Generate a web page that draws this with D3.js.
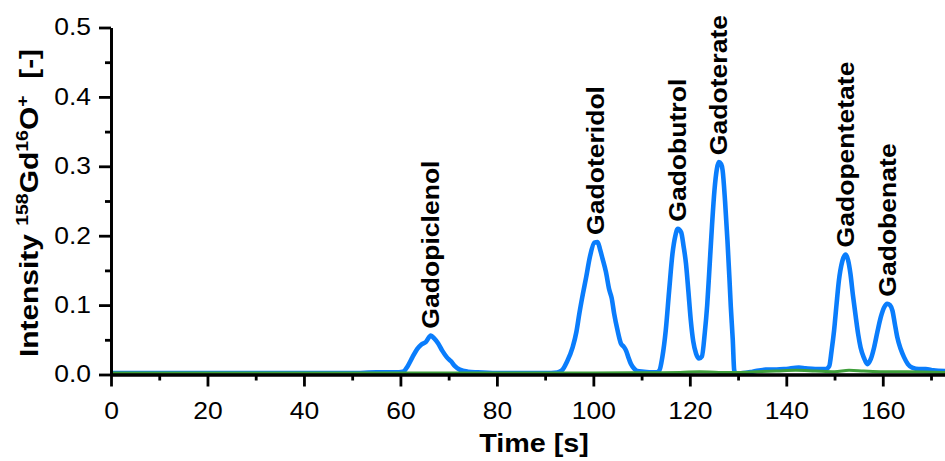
<!DOCTYPE html>
<html>
<head>
<meta charset="utf-8">
<script src="https://cdn.jsdelivr.net/npm/d3@7"></script>
<style>
    body { margin: 0; background: #fff; }
    text { font-family: "Liberation Sans", Arial, sans-serif; white-space: pre; }
</style>
</head>
<body>
<div class="vis-chromatogram"></div>
<script>
// time axis [s]
const xTicks = [0, 20, 40, 60, 80, 100, 120, 140, 160];
const yTicks = [0.0, 0.1, 0.2, 0.3, 0.4, 0.5];

// 158Gd16O+ trace (blue)
const blueTime = [0, 10, 20, 30, 40, 50, 55, 59, 60.5, 61.5, 62.5, 63.5, 64.3, 65.3, 66.3, 67, 67.8, 68.7, 69.6, 70.5, 71.3, 72.3, 74, 76, 80, 85, 90,
    92.5, 93.5, 94.5, 95.7, 96.5, 97.1, 97.8, 98.5, 99.3, 100.2, 100.9, 101.4, 101.9, 102.6, 103.3, 103.8, 104.3, 105, 105.7, 106.3, 106.8, 107.3, 107.8, 108.5, 109.1, 110.5, 112, 113,
    113.7, 114.3, 115, 115.7, 116.4, 117, 117.5, 118.2, 118.7, 119.2, 119.7, 120.2, 120.7, 121.3, 121.9, 122.5, 123.1, 123.6, 124, 124.6, 125.1, 125.6, 126, 126.5, 126.8, 127.3, 127.8, 128.2, 128.5, 128.9, 129.2, 129.5,
    131, 133, 135.7, 138, 140, 142.6, 144, 146, 148.2,
    148.9, 149.4, 149.9, 150.4, 150.9, 151.6, 152.3, 152.8, 153.3, 153.8, 154.4, 154.9, 155.4, 156.1, 156.8, 157.5, 158.2, 158.9, 159.6, 160.3, 160.9, 161.5, 162, 162.5, 163, 163.7, 164.4, 165.2, 166.1, 167.5, 168.9, 170.5, 172.9];
const blueValue = [0.002, 0.002, 0.002, 0.002, 0.002, 0.002, 0.003, 0.003, 0.004, 0.012, 0.025, 0.037, 0.043, 0.047, 0.056, 0.052, 0.045, 0.034, 0.025, 0.019, 0.012, 0.007, 0.004, 0.003, 0.002, 0.002, 0.002,
    0.003, 0.006, 0.018, 0.039, 0.062, 0.088, 0.115, 0.14, 0.17, 0.19, 0.191, 0.18, 0.167, 0.148, 0.122, 0.11, 0.088, 0.064, 0.045, 0.04, 0.034, 0.024, 0.015, 0.008, 0.005, 0.004, 0.003, 0.003,
    0.006, 0.025, 0.063, 0.12, 0.174, 0.2, 0.21, 0.205, 0.185, 0.16, 0.12, 0.078, 0.048, 0.03, 0.023, 0.026, 0.06, 0.1, 0.145, 0.215, 0.265, 0.296, 0.306, 0.303, 0.294, 0.25, 0.193, 0.14, 0.097, 0.05, 0.006, 0.001,
    0.002, 0.004, 0.007, 0.007, 0.008, 0.01, 0.009, 0.008, 0.008,
    0.012, 0.035, 0.063, 0.1, 0.135, 0.163, 0.173, 0.165, 0.145, 0.115, 0.083, 0.058, 0.039, 0.024, 0.015, 0.022, 0.039, 0.062, 0.083, 0.097, 0.102, 0.1, 0.092, 0.073, 0.054, 0.037, 0.025, 0.015, 0.01, 0.008, 0.008, 0.006, 0.005];

// second trace (green), almost flat on the baseline
const greenTime = [0, 20, 40, 60, 80, 100, 110, 118, 122, 126, 130, 134, 138, 142, 146, 150, 153, 156, 160, 165, 172.9];
const greenValue = [0.002, 0.002, 0.002, 0.002, 0.002, 0.002, 0.0025, 0.003, 0.004, 0.003, 0.003, 0.004, 0.005, 0.006, 0.005, 0.004, 0.006, 0.005, 0.004, 0.004, 0.003];

// peak annotations
const peakNames = ['Gadopiclenol', 'Gadoteridol', 'Gadobutrol', 'Gadoterate', 'Gadopentetate', 'Gadobenate'];
const peakTimes = [66.3, 100.5, 117.5, 126, 152.3, 160.9];
const peakValues = [0.056, 0.191, 0.21, 0.306, 0.173, 0.102];

const draw = () => {
    const width = 945, height = 461;
    const margin = { top: 27.5, right: 0, bottom: 86.5, left: 111 };
    const sx = 1.15; // glyphs in the figure are a little wider than Liberation Sans

    const svg = d3.select('.vis-chromatogram')
        .append('svg')
        .attr('width', width)
        .attr('height', height);

    const x = d3.scaleLinear()
        .domain([0, 172.9])
        .range([margin.left, width - margin.right]);
    const y = d3.scaleLinear()
        .domain([0, 0.5])
        .range([height - margin.bottom, margin.top]);

    // traces
    const line = d3.line()
        .x(d => x(d[0]))
        .y(d => y(d[1]))
        .curve(d3.curveMonotoneX);

    svg.append('path')
        .attr('d', line(blueTime.map((t, i) => [t, blueValue[i]])))
        .attr('fill', 'none')
        .attr('stroke', '#0a7dfc')
        .attr('stroke-width', 4.6)
        .attr('stroke-linejoin', 'round');

    svg.append('path')
        .attr('d', line(greenTime.map((t, i) => [t, greenValue[i]])))
        .attr('fill', 'none')
        .attr('stroke', '#3f9f3a')
        .attr('stroke-width', 3);

    // axes (major + minor ticks)
    const xAxis = svg.append('g')
        .attr('transform', 'translate(0,' + y(0) + ')');
    xAxis.append('g')
        .call(d3.axisBottom(x).tickValues(d3.range(10, 171, 20)).tickSize(6).tickFormat('').tickSizeOuter(0));
    xAxis.append('g')
        .call(d3.axisBottom(x).tickValues(xTicks).tickSize(12).tickPadding(16).tickSizeOuter(0))
        .selectAll('text')
        .attr('transform', 'scale(' + sx + ',1)');

    const yAxis = svg.append('g')
        .attr('transform', 'translate(' + x(0) + ',0)');
    yAxis.append('g')
        .call(d3.axisLeft(y).tickValues(d3.range(0.05, 0.5, 0.1)).tickSize(6).tickFormat('').tickSizeOuter(0));
    yAxis.append('g')
        .call(d3.axisLeft(y).tickValues(yTicks).tickSize(12).tickFormat(d3.format('.1f')).tickSizeOuter(0))
        .selectAll('text')
        .attr('x', 0)
        .attr('transform', 'translate(-20,0) scale(' + sx + ',1)');

    svg.selectAll('.domain, .tick line')
        .attr('stroke', '#000')
        .attr('stroke-width', 2.8);
    svg.selectAll('.tick text')
        .attr('font-size', 23)
        .attr('font-family', '"Liberation Sans", Arial, sans-serif')
        .attr('fill', '#000');

    // axis titles
    svg.append('text')
        .attr('transform', 'translate(' + 534 + ',' + 452 + ') scale(' + sx + ',1)')
        .attr('text-anchor', 'middle')
        .attr('font-size', 25)
        .attr('font-weight', 'bold')
        .text('Time [s]');

    const yTitle = svg.append('text')
        .attr('transform', 'translate(' + 38 + ',' + 203 + ') rotate(-90) scale(' + sx + ',1)')
        .attr('text-anchor', 'middle')
        .attr('font-size', 26)
        .attr('font-weight', 'bold');
    yTitle.append('tspan').text('Intensity ');
    yTitle.append('tspan').attr('font-size', 17).attr('dy', -10).text('158');
    yTitle.append('tspan').attr('dy', 10).text('Gd');
    yTitle.append('tspan').attr('font-size', 17).attr('dy', -10).text('16');
    yTitle.append('tspan').attr('dy', 10).text('O');
    yTitle.append('tspan').attr('font-size', 17).attr('dy', -10).text('+');
    yTitle.append('tspan').attr('dy', 10).text('  [-]');

    // peak labels, rotated, sitting just above each maximum
    svg.selectAll('.peak-label')
        .data(peakNames)
        .join('text')
        .attr('class', 'peak-label')
        .attr('transform', (d, i) => 'translate(' + (x(peakTimes[i]) + 8.5) + ',' + (y(peakValues[i]) - 7) + ') rotate(-90) scale(1.13,1)')
        .attr('font-size', 23.5)
        .attr('font-weight', 'bold')
        .text(d => d);

    return svg;
}

draw();
</script>
</body>
</html>
